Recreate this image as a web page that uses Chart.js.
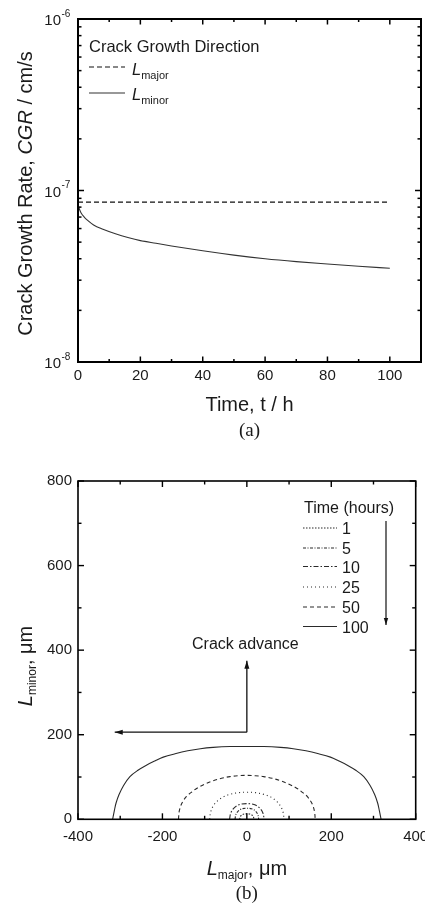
<!DOCTYPE html>
<html><head><meta charset="utf-8">
<script src="https://cdn.jsdelivr.net/npm/chart.js@4.4.0/dist/chart.umd.min.js"></script>
<style>
html,body{margin:0;padding:0;background:#fff;overflow:hidden;width:425px;height:908px}
#wa{position:absolute;left:0;top:0;width:425px;height:454px}
#wb{position:absolute;left:0;top:454px;width:425px;height:454px}
</style></head><body>
<div id="wa"><canvas id="ca"></canvas></div>
<div id="wb"><canvas id="cb"></canvas></div>
<script>
// ---------- Panel (a) data ----------
const timeHours = [0,0.5,1,2,3,5,8,12,16,20,25,30,40,50,60,70,80,90,100];
const cgrMinor  = [8.25e-8,7.75e-8,7.4e-8,7.0e-8,6.72e-8,6.3e-8,5.95e-8,5.6e-8,5.32e-8,5.1e-8,4.92e-8,4.75e-8,4.45e-8,4.2e-8,4.0e-8,3.85e-8,3.73e-8,3.62e-8,3.52e-8];
const majorTimes = [0,100];
const cgrMajor   = [8.55e-8,8.55e-8];
const xTickLabelsA = [0,20,40,60,80,100];
const yDecadesA = [1e-8,1e-7,1e-6];

// ---------- Panel (b) data: crack front [L_major, L_minor] in µm ----------
const front1h  = [[-17,0],[-15,7],[-11,11],[-6,12.5],[0,13],[6,12.5],[11,11],[15,7],[17,0]];
const front5h  = [[-28,0],[-26,11],[-20,20],[-11,25],[0,26],[11,25],[20,20],[26,11],[28,0]];
const front10h = [[-41,0],[-38,15],[-30,27],[-17,35],[0,37],[17,35],[30,27],[38,15],[41,0]];
const front25h = [[-88,0],[-86,16],[-80,31],[-70,43],[-56,53],[-40,59],[-20,63],[0,64],[20,63],[40,59],[56,53],[70,43],[80,31],[86,16],[88,0]];
const front50h = [[-162,0],[-160,20],[-154,38],[-143,54],[-130,65],[-119,73],[-100,83],[-80,91],[-60,97],[-40,101],[-20,103],[0,104],[20,103],[40,101],[60,97],[80,91],[100,83],[119,73],[130,65],[143,54],[154,38],[160,20],[162,0]];
const front100h = [[-318,0],[-314,20],[-310,38],[-303,58],[-292,80],[-277,101],[-258,116],[-238,128],[-218,138],[-198,147],[-170,155],[-140,162],[-110,167],[-80,170],[-40,172],[0,172],[40,172],[80,170],[110,167],[140,162],[170,155],[198,147],[218,138],[238,128],[258,116],[277,101],[292,80],[303,58],[310,38],[314,20],[318,0]];
const hourLabels = ['1','5','10','25','50','100'];
const advanceOrigin = [0,206];
const advanceTips = [[0,375],[-313,206]];
const xTickLabelsB = [-400,-200,0,200,400];
const yTickLabelsB = [0,200,400,600,800];

// ---------- styles ----------
const SANS = "'Liberation Sans', Arial, Helvetica, sans-serif";
const SERIF = "'Liberation Serif', 'Times New Roman', serif";
const TXT = '#1a1a1a';
const dashB = [[1.5,1.5],[3,1.5,1,1.5],[5,2,1.5,2],[1,3],[4,3],[]];
Chart.defaults.font.family = SANS;
Chart.defaults.font.size = 15;
Chart.defaults.color = TXT;

function runs(ctx, parts, x, y, align){
  let w = 0;
  parts.forEach(p=>{ctx.font=p.f; p.w=ctx.measureText(p.t).width; w+=p.w;});
  let cx = align==='center' ? x - w/2 : x;
  parts.forEach(p=>{ctx.font=p.f; ctx.fillText(p.t, cx, y + (p.dy||0)); cx += p.w;});
}
function seg(ctx,x1,y1,x2,y2){ctx.beginPath();ctx.moveTo(x1,y1);ctx.lineTo(x2,y2);ctx.stroke();}
function arrow(ctx,x1,y1,x2,y2,len,half){
  seg(ctx,x1,y1,x2,y2);
  const a = Math.atan2(y2-y1,x2-x1);
  ctx.beginPath();
  ctx.moveTo(x2,y2);
  ctx.lineTo(x2-len*Math.cos(a)+half*Math.sin(a), y2-len*Math.sin(a)-half*Math.cos(a));
  ctx.lineTo(x2-len*Math.cos(a)-half*Math.sin(a), y2-len*Math.sin(a)+half*Math.cos(a));
  ctx.closePath(); ctx.fill();
}

// ---------- Panel (a) ----------
const decorA = {
  id:'decorA',
  afterDraw(chart){
    const {ctx, chartArea:ca, scales:{x,y}} = chart;
    ctx.save();
    ctx.strokeStyle='#000'; ctx.fillStyle=TXT;
    ctx.lineWidth=1.5;
    for(let v=0; v<=110; v+=10){
      const px=x.getPixelForValue(v), L=(v%20===0)?5.5:3;
      seg(ctx,px,ca.bottom,px,ca.bottom-L); seg(ctx,px,ca.top,px,ca.top+L);
    }
    yDecadesA.forEach((d,i)=>{
      const py=y.getPixelForValue(d);
      seg(ctx,ca.left,py,ca.left+6,py); seg(ctx,ca.right,py,ca.right-6,py);
      if(i<yDecadesA.length-1){
        for(let m=2;m<=9;m++){
          const q=y.getPixelForValue(d*m);
          seg(ctx,ca.left,q,ca.left+3.5,q); seg(ctx,ca.right,q,ca.right-3.5,q);
        }
      }
      const e=Math.round(Math.log10(d));
      ctx.textBaseline='alphabetic';
      ctx.font='15px '+SANS; ctx.textAlign='right'; ctx.fillText('10',61,py+6);
      ctx.font='10px '+SANS; ctx.textAlign='left'; ctx.fillText(String(e),61.5,py-2.5);
    });
    ctx.lineWidth=2;
    ctx.strokeRect(ca.left,ca.top,ca.right-ca.left,ca.bottom-ca.top);
    ctx.textAlign='left'; ctx.textBaseline='alphabetic';
    runs(ctx,[{t:'Time, t / h',f:'20px '+SANS}], (ca.left+ca.right)/2, 411, 'center');
    runs(ctx,[{t:'(a)',f:'19px '+SERIF}], (ca.left+ca.right)/2, 436, 'center');
    ctx.save(); ctx.translate(32,(ca.top+ca.bottom)/2+3); ctx.rotate(-Math.PI/2);
    runs(ctx,[{t:'Crack Growth Rate, ',f:'20px '+SANS},{t:'CGR',f:'italic 20px '+SANS},{t:' / cm/s',f:'20px '+SANS}],0,0,'center');
    ctx.restore();
    const ds=chart.data.datasets;
    runs(ctx,[{t:'Crack Growth Direction',f:'16.5px '+SANS}], ca.left+11, 52, 'left');
    ctx.lineWidth=1.1;
    ctx.strokeStyle=ds[0].borderColor; ctx.setLineDash(ds[0].borderDash); seg(ctx,ca.left+11,67,ca.left+47,67);
    ctx.setLineDash([]); ctx.strokeStyle=ds[1].borderColor; seg(ctx,ca.left+11,93,ca.left+47,93);
    runs(ctx,[{t:'L',f:'italic 16.5px '+SANS},{t:'major',f:'11px '+SANS,dy:4}], ca.left+54, 75, 'left');
    runs(ctx,[{t:'L',f:'italic 16.5px '+SANS},{t:'minor',f:'11px '+SANS,dy:4}], ca.left+54, 100, 'left');
    ctx.restore();
  }
};

new Chart(document.getElementById('ca'),{
  type:'line',
  data:{datasets:[
    {label:'L major', data:majorTimes.map((t,i)=>({x:t,y:cgrMajor[i]})), borderColor:'#111', borderWidth:1.2, borderDash:[5,3], pointRadius:0, fill:false},
    {label:'L minor', data:timeHours.map((t,i)=>({x:t,y:cgrMinor[i]})), borderColor:'#333', borderWidth:1.1, pointRadius:0, fill:false, cubicInterpolationMode:'monotone'}
  ]},
  options:{
    responsive:true, maintainAspectRatio:false, animation:false,
    layout:{padding:{left:0,top:19,right:4,bottom:0}},
    plugins:{legend:{display:false},tooltip:{enabled:false}},
    scales:{
      x:{type:'linear',min:0,max:110,grid:{display:false,drawTicks:false},border:{display:false},
         ticks:{stepSize:10,autoSkip:false,maxRotation:0,padding:5,color:TXT,font:{size:15},
                callback:v=>xTickLabelsA.includes(v)?String(v):''},
         afterFit:s=>{s.height=92;s.paddingLeft=0;s.paddingRight=0;}},
      y:{type:'logarithmic',min:1e-8,max:1e-6,grid:{display:false,drawTicks:false},border:{display:false},
         ticks:{display:false},
         afterFit:s=>{s.width=78;s.paddingTop=0;s.paddingBottom=0;}}
    }
  },
  plugins:[decorA]
});

// ---------- Panel (b) ----------
const fronts=[front1h,front5h,front10h,front25h,front50h,front100h];
const decorB = {
  id:'decorB',
  afterDraw(chart){
    const {ctx, chartArea:ca, scales:{x,y}} = chart;
    ctx.save();
    ctx.strokeStyle='#000'; ctx.fillStyle=TXT;
    ctx.lineWidth=1.4;
    for(let v=-400; v<=400; v+=100){
      const px=x.getPixelForValue(v), L=(v%200===0)?6:3.5;
      seg(ctx,px,ca.bottom,px,ca.bottom-L); seg(ctx,px,ca.top,px,ca.top+L);
    }
    for(let v=0; v<=800; v+=100){
      const py=y.getPixelForValue(v), L=(v%200===0)?6:3.5;
      seg(ctx,ca.left,py,ca.left+L,py); seg(ctx,ca.right,py,ca.right-L,py);
    }
    ctx.lineWidth=1.6;
    ctx.strokeRect(ca.left,ca.top,ca.right-ca.left,ca.bottom-ca.top);
    ctx.lineWidth=1.3; ctx.fillStyle='#111'; ctx.strokeStyle='#111';
    const ox=x.getPixelForValue(advanceOrigin[0]), oy=y.getPixelForValue(advanceOrigin[1]);
    advanceTips.forEach(t=>arrow(ctx,ox,oy,x.getPixelForValue(t[0]),y.getPixelForValue(t[1]),8,2.5));
    ctx.fillStyle=TXT;
    ctx.textAlign='left'; ctx.textBaseline='alphabetic';
    runs(ctx,[{t:'Crack advance',f:'16px '+SANS}],192,194.5,'left');
    runs(ctx,[{t:'Time (hours)',f:'16px '+SANS}],304,59,'left');
    const rows=[74,94,112.5,133,153,172.5];
    const ds=chart.data.datasets;
    ds.forEach((d,i)=>{
      ctx.strokeStyle=d.borderColor; ctx.lineWidth=1.1; ctx.setLineDash(d.borderDash);
      seg(ctx,303,rows[i],337,rows[i]);
      ctx.setLineDash([]);
      runs(ctx,[{t:hourLabels[i],f:'16px '+SANS}],342,rows[i]+6,'left');
    });
    ctx.strokeStyle='#111'; ctx.fillStyle='#111'; ctx.lineWidth=1.2;
    arrow(ctx,386,67,386,171,7,2.2);
    ctx.fillStyle=TXT;
    runs(ctx,[{t:'L',f:'italic 20px '+SANS},{t:'major',f:'12px '+SANS,dy:4},{t:', μm',f:'20px '+SANS}],(ca.left+ca.right)/2,421,'center');
    runs(ctx,[{t:'(b)',f:'19px '+SERIF}],(ca.left+ca.right)/2,445,'center');
    ctx.save(); ctx.translate(32,212); ctx.rotate(-Math.PI/2);
    runs(ctx,[{t:'L',f:'italic 20px '+SANS},{t:'minor',f:'12px '+SANS,dy:4},{t:', μm',f:'20px '+SANS}],0,0,'center');
    ctx.restore();
    ctx.restore();
  }
};

new Chart(document.getElementById('cb'),{
  type:'line',
  data:{datasets:fronts.map((f,i)=>({
    label:hourLabels[i]+' h', data:f.map(p=>({x:p[0],y:p[1]})),
    borderColor:'#2a2a2a', borderWidth:1.1, borderDash:dashB[i], pointRadius:0, fill:false, tension:0.35
  }))},
  options:{
    responsive:true, maintainAspectRatio:false, animation:false,
    layout:{padding:{left:0,top:27,right:9.3,bottom:0}},
    plugins:{legend:{display:false},tooltip:{enabled:false}},
    scales:{
      x:{type:'linear',min:-400,max:400,grid:{display:false,drawTicks:false},border:{display:false},
         ticks:{stepSize:100,autoSkip:false,maxRotation:0,padding:9,color:TXT,font:{size:15},
                callback:v=>xTickLabelsB.includes(v)?String(v):''},
         afterFit:s=>{s.height=88.7;s.paddingLeft=0;s.paddingRight=0;}},
      y:{type:'linear',min:0,max:800,grid:{display:false,drawTicks:false},border:{display:false},
         ticks:{stepSize:100,autoSkip:false,padding:6,color:TXT,font:{size:15},
                callback:v=>yTickLabelsB.includes(v)?String(v):''},
         afterFit:s=>{s.width=78;s.paddingTop=0;s.paddingBottom=0;}}
    }
  },
  plugins:[decorB]
});
</script>
</body></html>
